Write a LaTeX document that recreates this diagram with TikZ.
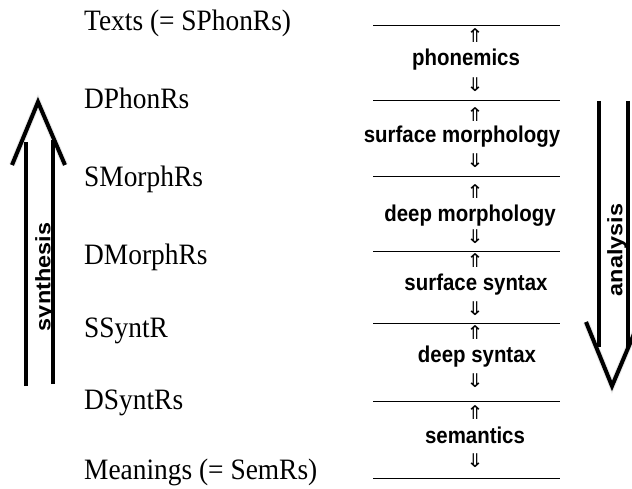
\documentclass[tikz,border=0pt]{standalone}
\usepackage{fontspec}
\setmainfont{Liberation Serif}
\newfontfamily\labelsans{Liberation Sans}
\newfontfamily\arrowfont{DejaVu Sans}
\usepackage{tikz}
\usetikzlibrary{positioning}
\tikzset{
  levelnode/.style={anchor=base west, inner sep=0pt, yscale=1.08,
                    font=\fontsize{27.5}{29}\selectfont},
  stagenode/.style={inner sep=0pt, yscale=1.12,
                    font=\labelsans\bfseries\fontsize{20.5}{22}\selectfont},
  tickup/.style   ={inner sep=0pt, xscale=1.1, yshift=-3bp,
                    text height=9bp, text depth=1bp,
                    font=\arrowfont\fontsize{19}{19}\selectfont},
  rulel/.style    ={line width=1bp},
  bigarr/.style   ={line width=4bp, line cap=butt, line join=miter},
  bigshade/.style ={line width=6bp, draw=black!25, opacity=0.35},
  dirnode/.style  ={inner sep=0pt, rotate=90, xscale=1.12,
                    font=\labelsans\bfseries\fontsize{21}{21}\selectfont},
}
\begin{document}
\begin{tikzpicture}[x=1bp,y=-1bp]
  \clip (0,0) rectangle (632,489);
  \fill[white] (0,0) rectangle (632,489);

  % levels on the left
  \node[levelnode] (texts)    at (84,31)  {Texts (= SPhonRs)};
  \node[levelnode] (dphon)    at (84,109) {DPhonRs};
  \node[levelnode] (smorph)   at (84,187) {SMorphRs};
  \node[levelnode] (dmorph)   at (84,264) {DMorphRs};
  \node[levelnode] (ssynt)    at (84,337) {SSyntR};
  \node[levelnode] (dsynt)    at (84,409) {DSyntRs};
  \node[levelnode] (meanings) at (84,479) {Meanings (= SemRs)};

  % rules between the components
  \coordinate (r1w) at (373,26);  \coordinate (r1e) at (560,26);
  \coordinate (r2w) at (373,101); \coordinate (r2e) at (560,101);
  \coordinate (r3w) at (373,177); \coordinate (r3e) at (560,177);
  \coordinate (r4w) at (373,251); \coordinate (r4e) at (560,251);
  \coordinate (r5w) at (373,323); \coordinate (r5e) at (560,323);
  \coordinate (r6w) at (373,401); \coordinate (r6e) at (560,401);
  \coordinate (r7w) at (373,478); \coordinate (r7e) at (560,478);
  \draw[rulel](r1w)--(r1e);\draw[rulel](r2w)--(r2e);\draw[rulel](r3w)--(r3e);
  \draw[rulel](r4w)--(r4e);\draw[rulel](r5w)--(r5e);\draw[rulel](r6w)--(r6e);
  \draw[rulel](r7w)--(r7e);

  % components
  \node[tickup]    (phonU) at (475,36)  {⇑};
  \node[stagenode] (phon)  at (466,60)  {phonemics};
  \node[tickup]    (phonD) at (475,85)  {⇓};

  \node[tickup]    (smorU) at (475,115) {⇑};
  \node[stagenode] (smor)  at (462,137) {surface morphology};
  \node[tickup]    (smorD) at (475,161) {⇓};

  \node[tickup]    (dmorU) at (475,192) {⇑};
  \node[stagenode] (dmor)  at (470,216) {deep morphology};
  \node[tickup]    (dmorD) at (475,237) {⇓};

  \node[tickup]    (ssynU) at (475,260) {⇑};
  \node[stagenode] (ssyn)  at (476,285) {surface syntax};
  \node[tickup]    (ssynD) at (475,308) {⇓};

  \node[tickup]    (dsynU) at (475,332) {⇑};
  \node[stagenode] (dsyn)  at (477,357) {deep syntax};
  \node[tickup]    (dsynD) at (475,380) {⇓};

  \node[tickup]    (semU)  at (475,412) {⇑};
  \node[stagenode] (sem)   at (475,435) {semantics};
  \node[tickup]    (semD)  at (475,460) {⇓};

  % synthesis arrow
  \coordinate (synL) at (26,386);  \coordinate (synLt) at (26,142);
  \coordinate (synR) at (53,384);  \coordinate (synRt) at (53,140);
  \coordinate (synA) at (38,102);
  \coordinate (synBl) at (12,165); \coordinate (synBr) at (65,165);
  \begin{scope}[shift={(2,4)}]
    \draw[bigshade](synBl)--(synA)--(synBr);
  \end{scope}
  \draw[bigarr](synL)--(synLt);\draw[bigarr](synR)--(synRt);
  \draw[bigarr](synBl)--(synA)--(synBr);
  \node[dirnode] (syn) at (45,277) {synthesis};

  % analysis arrow
  \coordinate (anaL) at (599,101); \coordinate (anaLb) at (599,347);
  \coordinate (anaR) at (628,101); \coordinate (anaRb) at (628,347);
  \coordinate (anaA) at (612,386);
  \coordinate (anaBl) at (586,322); \coordinate (anaBr) at (639,322);
  \begin{scope}[shift={(2,4)}]
    \draw[bigshade](anaBl)--(anaA)--(anaBr);
  \end{scope}
  \draw[bigarr](anaL)--(anaLb);\draw[bigarr](anaR)--(anaRb);
  \draw[bigarr](anaBl)--(anaA)--(anaBr);
  \node[dirnode] (ana) at (617,250) {analysis};
\end{tikzpicture}
\end{document}
